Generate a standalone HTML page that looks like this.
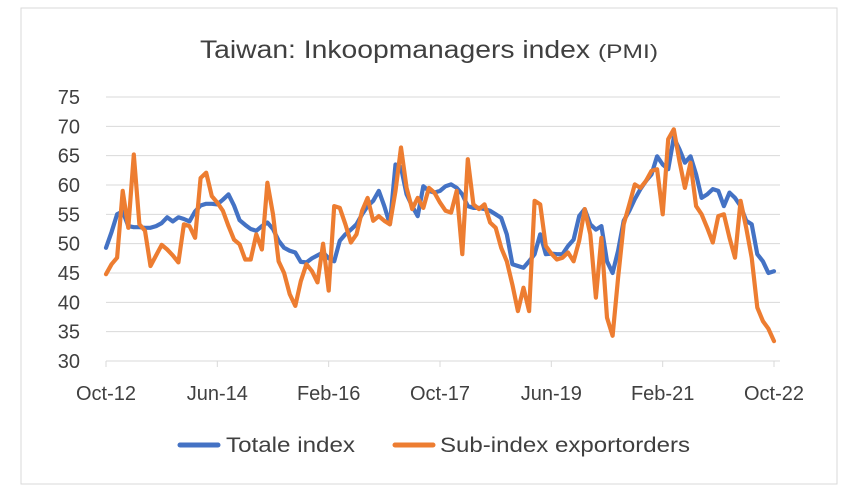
<!DOCTYPE html>
<html><head><meta charset="utf-8"><style>
html,body{margin:0;padding:0;background:#fff;}
svg{display:block;font-family:"Liberation Sans",sans-serif;}
</style></head><body>
<svg id="chart" width="858" height="492" viewBox="0 0 858 492" xmlns="http://www.w3.org/2000/svg">
<rect x="21" y="8" width="816" height="476" fill="#fff" stroke="#d9d9d9" stroke-width="1"/>
<text x="200" y="58" font-size="25" fill="#404040" textLength="390" lengthAdjust="spacingAndGlyphs">Taiwan: Inkoopmanagers index</text>
<text x="598" y="58" font-size="19" fill="#404040" textLength="60" lengthAdjust="spacingAndGlyphs">(PMI)</text>
<g id="grid"></g><g id="axes"></g><g id="series"></g>
<g>
<line x1="180" y1="445" x2="218" y2="445" stroke="#4472c4" stroke-width="5" stroke-linecap="round"/>
<text x="226" y="452" font-size="21" fill="#404040" textLength="129" lengthAdjust="spacingAndGlyphs">Totale index</text>
<line x1="395" y1="445" x2="433" y2="445" stroke="#ed7d31" stroke-width="5" stroke-linecap="round"/>
<text x="440" y="452" font-size="21" fill="#404040" textLength="250" lengthAdjust="spacingAndGlyphs">Sub-index exportorders</text>
</g>
</svg>
<script>
const yTicks=[30,35,40,45,50,55,60,65,70,75];
const xLabels=["Oct-12","Jun-14","Feb-16","Oct-17","Jun-19","Feb-21","Oct-22"];
const totaleIndex=[49.3,52,55,55.5,53,52.8,52.8,52.7,52.7,53,53.5,54.5,53.8,54.5,54.2,53.8,55.5,56.5,56.8,56.8,56.7,57.5,58.4,56.5,54,53.2,52.5,52.2,53,53.6,52.5,50.5,49.3,48.8,48.5,46.9,46.8,47.5,48,48.5,47.5,47,50.5,51.6,52.4,53.3,55,56.4,57.3,59,56.4,53.3,63.5,63,58.4,56.4,54.7,59.8,59,58.7,59,59.8,60.1,59.5,58.4,56.4,56.1,56.1,55.9,55.6,55,54.4,51.6,46.5,46.2,45.9,47,48.2,51.6,48.2,48.3,48.2,48.2,49.6,50.7,54.7,55.9,53.3,52.4,53,47,45,48.8,53.9,55.6,57.6,59.3,60.7,61.8,64.9,63.5,62.7,68.1,66.1,63.8,64.9,61.8,57.8,58.4,59.3,59,56.4,58.7,57.8,56.4,53.9,53.3,48.2,47,45,45.3];
const exportOrders=[44.8,46.5,47.6,59,52.7,65.2,53.3,52.2,46.2,48,49.8,49,48,46.8,53.3,53,51,61.2,62.1,58.1,57,55.6,53,50.7,49.9,47.3,47.3,51.6,49,60.4,55,47,45,41.4,39.4,43.6,46.5,45.3,43.4,50,42,56.4,56.1,53.3,50.2,51.6,55.6,57.8,53.9,54.7,53.9,53.3,59,66.4,59.5,55.9,57.8,56.1,59.5,58.7,57,55.6,55.3,59,48.2,64.4,56.7,55.9,56.7,53.6,52.7,49.3,47,43,38.5,42.5,38.5,57.3,56.7,49.6,48.3,47.3,47.6,48.5,47,50.5,55.9,51.6,40.8,51,37.4,34.3,44.2,53.3,56.7,60.1,59.5,60.7,62.4,62.7,55,67.8,69.5,64.1,59.5,63.8,56.4,55,52.7,50.2,54.7,55,51,47.6,57.3,52.7,47.6,39.1,36.8,35.5,33.4];
const NS="http://www.w3.org/2000/svg";
const X0=106,X1=774,Y0=361,Y1=97,VMIN=30,VMAX=75;
function xScale(i,n){return X0+(X1-X0)*i/(n-1);}
function yScale(v){return Y0-(v-VMIN)/(VMAX-VMIN)*(Y0-Y1);}
const grid=document.getElementById('grid'),axes=document.getElementById('axes'),series=document.getElementById('series');
yTicks.forEach(t=>{
  const y=yScale(t);
  if(t>VMIN){const l=document.createElementNS(NS,'line');
  
  
  l.setAttribute('x1',X0);l.setAttribute('x2',780);l.setAttribute('y1',y);l.setAttribute('y2',y);
  l.setAttribute('stroke','#d9d9d9');l.setAttribute('stroke-width','1');grid.appendChild(l);}
  const tx=document.createElementNS(NS,'text');
  
  
  tx.setAttribute('x',80);tx.setAttribute('y',y+7);tx.setAttribute('text-anchor','end');
  tx.setAttribute('font-size','20');tx.setAttribute('fill','#404040');tx.textContent=t;axes.appendChild(tx);
});
const ax=document.createElementNS(NS,'line');


ax.setAttribute('x1',X0);ax.setAttribute('x2',780);ax.setAttribute('y1',Y0);ax.setAttribute('y2',Y0);
ax.setAttribute('stroke','#d9d9d9');axes.appendChild(ax);
xLabels.forEach((lab,k)=>{
  const x=X0+(X1-X0)*k/(xLabels.length-1);
  const tk=document.createElementNS(NS,'line');
  
  
  tk.setAttribute('x1',x);tk.setAttribute('x2',x);tk.setAttribute('y1',Y0);tk.setAttribute('y2',Y0+6);
  tk.setAttribute('stroke','#d9d9d9');axes.appendChild(tk);
  const tx=document.createElementNS(NS,'text');
  
  
  tx.setAttribute('x',x);tx.setAttribute('y',400);tx.setAttribute('text-anchor','middle');
  tx.setAttribute('font-size','20');tx.setAttribute('fill','#404040');tx.textContent=lab;axes.appendChild(tx);
});
function drawLine(arr,color,name){
  const p=document.createElementNS(NS,'polyline');
  
  
  p.setAttribute('points',arr.map((v,i)=>xScale(i,arr.length).toFixed(1)+','+yScale(v).toFixed(1)).join(' '));
  p.setAttribute('fill','none');p.setAttribute('stroke',color);p.setAttribute('stroke-width','4.2');
  p.setAttribute('stroke-linejoin','round');p.setAttribute('stroke-linecap','round');
  series.appendChild(p);
}
drawLine(totaleIndex,'#4472c4','totale-index-line');
drawLine(exportOrders,'#ed7d31','export-orders-line');
</script>
</body></html>
